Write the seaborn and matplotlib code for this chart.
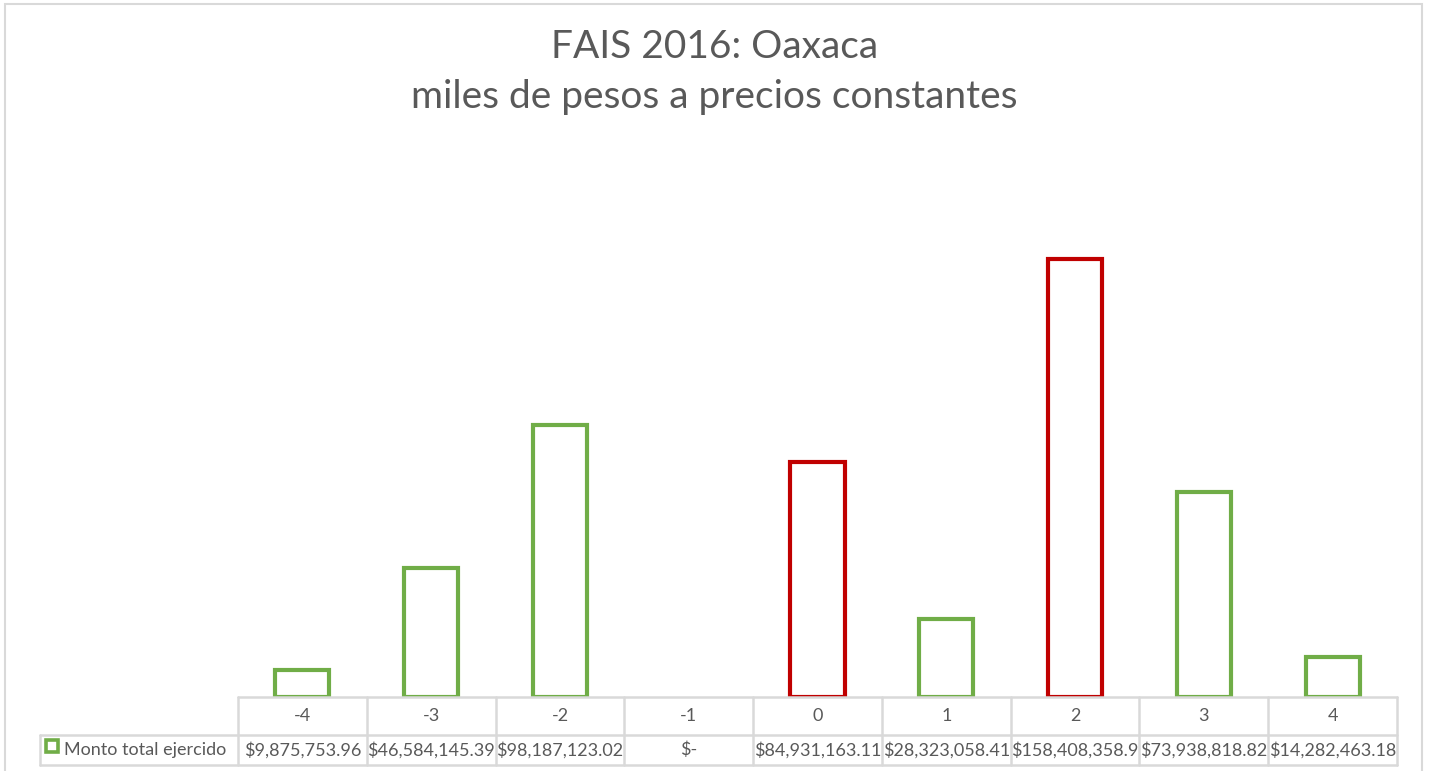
import matplotlib
matplotlib.use('Agg')
import matplotlib.pyplot as plt
import seaborn as sns
import pandas as pd
from matplotlib.lines import Line2D
from matplotlib.patches import Rectangle

categorias = ['-4', '-3', '-2', '-1', '0', '1', '2', '3', '4']
monto = [9875753.96, 46584145.39, 98187123.02, 0.0, 84931163.11,
         28323058.41, 158408358.9, 73938818.82, 14282463.18]
etiquetas = ['$9,875,753.96', '$46,584,145.39', '$98,187,123.02', '$-',
             '$84,931,163.11', '$28,323,058.41', '$158,408,358.9',
             '$73,938,818.82', '$14,282,463.18']
destacados = ['0', '2']
serie = 'Monto total ejercido'

verde = '#70AD47'
rojo = '#C00000'
gris = '#595959'
linea = '#D9D9D9'

df = pd.DataFrame({'cat': categorias, 'monto': monto})
paleta = {c: (rojo if c in destacados else verde) for c in categorias}

sns.set_style('white')
plt.rcParams['font.family'] = ['Lato', 'DejaVu Sans']

W, H = 1429, 771
fig = plt.figure(figsize=(W / 100, H / 100), dpi=100)
ax = fig.add_axes([238 / W, (H - 697) / H, (1397 - 238) / W, (697 - 199) / H])

sns.barplot(data=df, x='cat', y='monto', hue='cat', palette=paleta,
            order=categorias, fill=False, linewidth=3, width=0.42,
            legend=False, ax=ax)
for p in ax.patches:
    if p.get_height() == 0:
        p.set_visible(False)
ax.set_ylim(0, 180e6)
ax.set_xlim(-0.5, len(categorias) - 0.5)
ax.set_xlabel('')
ax.set_ylabel('')
ax.set_xticks([])
ax.set_yticks([])
for s in ax.spines.values():
    s.set_visible(False)

# data table under the axes (figure pixel coords, y from top)
def fx(x):
    return x / W

def fy(y):
    return 1 - y / H

def hline(x0, x1, y):
    fig.add_artist(Line2D([fx(x0), fx(x1)], [fy(y), fy(y)], color=linea, lw=1.8))

def vline(x, y0, y1):
    fig.add_artist(Line2D([fx(x), fx(x)], [fy(y0), fy(y1)], color=linea, lw=1.8))

x0, x1 = 238, 1397
n = len(categorias)
colw = (x1 - x0) / n
y_top, y_mid, y_bot = 697, 735, 765
lab_x = 40

hline(x0, x1, y_top)
hline(lab_x, x1, y_mid)
hline(lab_x, x1, y_bot)
vline(lab_x, y_mid, y_bot)
for i in range(n + 1):
    vline(x0 + i * colw, y_top, y_bot)
for i, (c, t) in enumerate(zip(categorias, etiquetas)):
    cx = x0 + (i + 0.5) * colw
    fig.text(fx(cx), fy((y_top + y_mid) / 2), c, ha='center', va='center',
             fontsize=13, color=gris)
    fig.text(fx(cx), fy((y_mid + y_bot) / 2), t, ha='center', va='center',
             fontsize=13, color=gris)
fig.text(fx(64), fy((y_mid + y_bot) / 2), serie, ha='left', va='center',
         fontsize=13, color=gris)
fig.add_artist(Line2D([fx(52)], [fy(746)], marker='s', ms=9, mfc='white',
                      mec=verde, mew=2.6))

fig.text(0.5, fy(47), 'FAIS 2016: Oaxaca', ha='center', va='center',
         fontsize=28, color=gris)
fig.text(0.5, fy(97), 'miles de pesos a precios constantes', ha='center',
         va='center', fontsize=28, color=gris)

fig.add_artist(Rectangle((fx(5), -0.01), fx(1422 - 5), fy(4) + 0.01,
                         transform=fig.transFigure, fill=False,
                         edgecolor=linea, linewidth=1.5))

fig.savefig('out.png', dpi=100)
